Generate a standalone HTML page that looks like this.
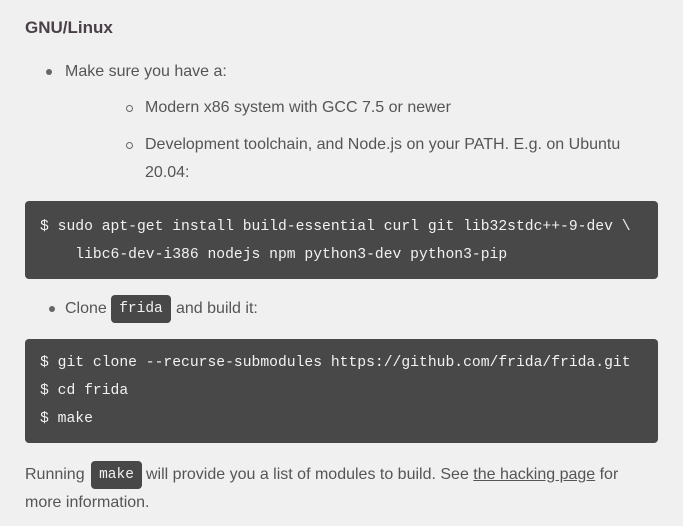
<!DOCTYPE html>
<html><head><style>
html,body{margin:0;padding:0;background:#f0f0f0;width:683px;height:526px;overflow:hidden}
body{position:relative;font-family:"Liberation Sans",sans-serif;color:#555;font-size:16px}
.t{position:absolute;white-space:nowrap;line-height:20px}
.c{position:absolute;background:#484848;border-radius:4px}
.m{position:absolute;white-space:pre;font-family:"Liberation Mono",monospace;font-size:14.7px;color:#f2f2f2;line-height:20px}
.ic{display:inline-block;background:#484848;color:#f2f2f2;border-radius:4px;font-family:"Liberation Mono",monospace;font-size:14.5px;padding:0 6px;line-height:28px;vertical-align:middle}
.dot{position:absolute;width:6px;height:6px;border-radius:50%;background:#666}
.ring{position:absolute;width:5px;height:5px;border-radius:50%;border:1px solid #666}
</style></head><body>
<div class="t" style="left:25px;top:18px;font-weight:bold;font-size:17px;color:#4a4048">GNU/Linux</div>
<div class="dot" style="left:46px;top:69px"></div>
<div class="t" style="left:65px;top:62px">Make sure you have a:</div>
<div class="ring" style="left:126px;top:105px"></div>
<div class="t" style="left:145px;top:98px">Modern x86 system with GCC 7.5 or newer</div>
<div class="ring" style="left:126px;top:142px"></div>
<div class="t" style="left:145px;top:135px">Development toolchain, and Node.js on your PATH. E.g. on Ubuntu</div>
<div class="t" style="left:145px;top:163px">20.04:</div>
<div class="c" style="left:25px;top:201px;width:633px;height:78px"></div>
<div class="m" style="left:40px;top:217px">$ sudo apt-get install build-essential curl git lib32stdc++-9-dev \</div>
<div class="m" style="left:40px;top:245px">    libc6-dev-i386 nodejs npm python3-dev python3-pip</div>
<div class="dot" style="left:49px;top:306px"></div>
<div class="t" style="left:65px;top:299px;line-height:20px">Clone</div>
<div class="ic" style="position:absolute;left:111px;top:295px;width:48px;text-align:center">frida</div>
<div class="t" style="left:176px;top:299px">and build it:</div>
<div class="c" style="left:25px;top:339px;width:633px;height:104px"></div>
<div class="m" style="left:40px;top:353px">$ git clone --recurse-submodules https://github.com/frida/frida.git</div>
<div class="m" style="left:40px;top:381px">$ cd frida</div>
<div class="m" style="left:40px;top:409px">$ make</div>
<div class="t" style="left:25px;top:465px">Running</div>
<div class="ic" style="position:absolute;left:91px;top:461px;width:39px;text-align:center;padding:0 6px">make</div>
<div class="t" style="left:146px;top:465px">will provide you a list of modules to build. See <span style="text-decoration:underline">the hacking page</span> for</div>
<div class="t" style="left:25px;top:493px">more information.</div>
</body></html>
